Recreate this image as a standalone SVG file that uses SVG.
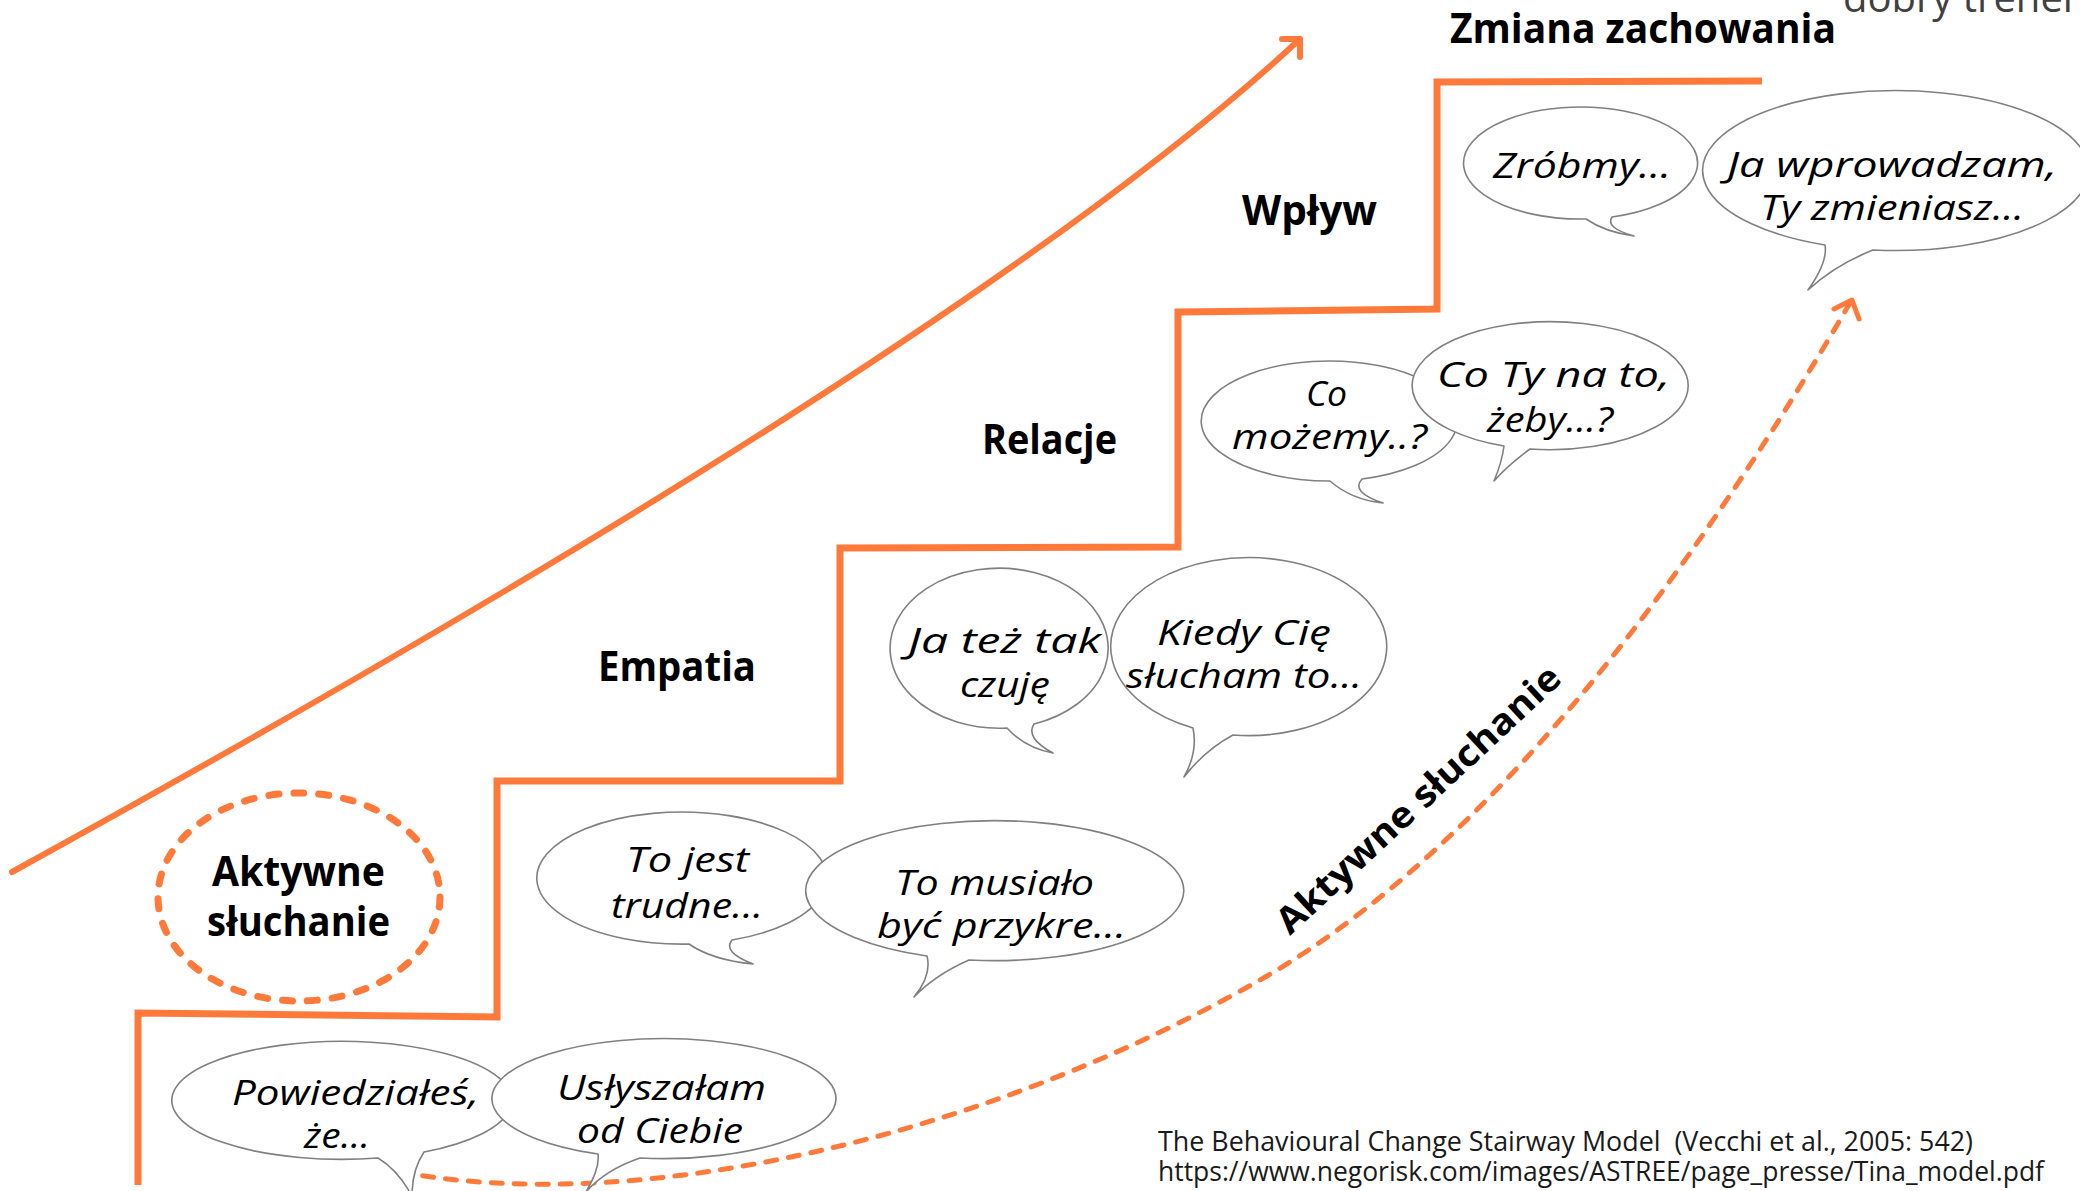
<svg xmlns="http://www.w3.org/2000/svg" width="2080" height="1191" viewBox="0 0 2080 1191">
<style>
.stair{fill:none;stroke:#FF7A3A;stroke-width:7;stroke-linejoin:miter}
.arrow{fill:none;stroke:#FF7A3A;stroke-width:6;stroke-linecap:round;stroke-linejoin:round}
.dash{fill:none;stroke:#FF7A3A;stroke-width:5;stroke-dasharray:11 12;stroke-linecap:round}
.ring{fill:none;stroke:#FF7A3A;stroke-width:7;stroke-dasharray:10 15;stroke-linecap:round}
.bubble{fill:#fff;stroke:#808080;stroke-width:1.6;stroke-linejoin:round}
.say{font-family:"Open Sans","Noto Sans",sans-serif;font-style:italic;font-weight:500;font-size:34px;fill:#000}
.lbl{font-family:"Open Sans","Noto Sans",sans-serif;font-weight:700;font-size:42px;fill:#000}
.ref{font-family:"Open Sans","Noto Sans",sans-serif;font-weight:400;font-size:27px;fill:#1a1a1a}
</style>
<rect width="2080" height="1191" fill="#fff"/>
<text x="1843" y="12" style="font-family:'Open Sans',sans-serif;font-size:40px;fill:#404040">dobry trener</text>

<g id="connectors">
  <polyline id="stairs" class="stair" points="138,1185 138,1013 497,1017 497,781 840,781 840,548 1178,547 1178,312 1437,309 1437,82 1762,81"/>
  <path id="growth-arrow" class="arrow" d="M12,872 Q972,344 1300,39"/>
  <path class="arrow" d="M1282,39 L1300,39 L1300,57"/>
  <path id="listening-arrow" class="dash" d="M400,1172 C650,1218 1000,1130 1267,976 C1500,840 1700,560 1850,303"/>
  <path class="arrow" style="stroke-width:5" d="M1834,309 L1852,300 L1859,319"/>
</g>

<g id="step-labels">
  <text class="lbl" x="1450" y="43" textLength="386" lengthAdjust="spacingAndGlyphs">Zmiana zachowania</text>
  <text class="lbl" x="1242" y="225" textLength="135" lengthAdjust="spacingAndGlyphs">Wpływ</text>
  <text class="lbl" x="982" y="454" textLength="135" lengthAdjust="spacingAndGlyphs">Relacje</text>
  <text class="lbl" x="598" y="681" textLength="158" lengthAdjust="spacingAndGlyphs">Empatia</text>
  <text class="lbl" transform="translate(1290,936) rotate(-43)" style="font-size:36px" x="0" y="0" textLength="374" lengthAdjust="spacingAndGlyphs">Aktywne słuchanie</text>
</g>

<g id="node-aktywne">
  <ellipse class="ring" cx="299" cy="897" rx="141" ry="104"/>
  <text class="lbl" x="212" y="886" textLength="173" lengthAdjust="spacingAndGlyphs">Aktywne</text>
  <text class="lbl" x="207" y="936" textLength="183" lengthAdjust="spacingAndGlyphs">słuchanie</text>
</g>

<g id="bubble-powiedziales">
  <path class="bubble" d="M378,1158 A170,59 0 1 1 424,1152 Q412,1170 412,1196 Q398,1170 378,1158 Z"/>
  <text class="say" x="232" y="1105" textLength="247" lengthAdjust="spacingAndGlyphs">Powiedziałeś,</text>
  <text class="say" x="304" y="1148" textLength="66" lengthAdjust="spacingAndGlyphs">że...</text>
</g>
<g id="bubble-uslyszalam">
  <path class="bubble" d="M598,1154 A172,60 0 1 1 640,1158 Q605,1170 586,1192 Q600,1168 598,1154 Z"/>
  <text class="say" x="557" y="1100" textLength="209" lengthAdjust="spacingAndGlyphs">Usłyszałam</text>
  <text class="say" x="577" y="1143" textLength="166" lengthAdjust="spacingAndGlyphs">od Ciebie</text>
</g>
<g id="bubble-to-jest">
  <path class="bubble" d="M689,944 A145,66 0 1 1 732,940 Q722,952 753,964 Q712,960 689,944 Z"/>
  <text class="say" x="626" y="872" textLength="123" lengthAdjust="spacingAndGlyphs">To jest</text>
  <text class="say" x="611" y="918" textLength="152" lengthAdjust="spacingAndGlyphs">trudne...</text>
</g>
<g id="bubble-to-musialo">
  <path class="bubble" d="M927,956 A189,70 0 1 1 969,960 Q935,975 914,997 Q932,975 927,956 Z"/>
  <text class="say" x="895" y="895" textLength="199" lengthAdjust="spacingAndGlyphs">To musiało</text>
  <text class="say" x="877" y="938" textLength="249" lengthAdjust="spacingAndGlyphs">być przykre...</text>
</g>
<g id="bubble-ja-tez">
  <path class="bubble" d="M1007,728 A109,80 0 1 1 1034,724 Q1025,738 1053,753 Q1025,748 1007,728 Z"/>
  <text class="say" x="908" y="653" textLength="193" lengthAdjust="spacingAndGlyphs">Ja też tak</text>
  <text class="say" x="960" y="697" textLength="90" lengthAdjust="spacingAndGlyphs">czuję</text>
</g>
<g id="bubble-kiedy">
  <path class="bubble" d="M1193,728 A138,89 0 1 1 1233,735 Q1205,750 1184,777 Q1198,752 1193,728 Z"/>
  <text class="say" x="1157" y="645" textLength="174" lengthAdjust="spacingAndGlyphs">Kiedy Cię</text>
  <text class="say" x="1126" y="688" textLength="236" lengthAdjust="spacingAndGlyphs">słucham to...</text>
</g>
<g id="bubble-co-mozemy">
  <path class="bubble" d="M1330,481 A128,60 0 1 1 1362,479 Q1350,492 1383,503 Q1352,500 1330,481 Z"/>
  <text class="say" x="1306" y="406" textLength="41" lengthAdjust="spacingAndGlyphs">Co</text>
  <text class="say" x="1232" y="449" textLength="195" lengthAdjust="spacingAndGlyphs">możemy..?</text>
</g>
<g id="bubble-co-ty">
  <path class="bubble" d="M1504,446 A138,64 0 1 1 1530,449 Q1508,465 1494,481 Q1502,462 1504,446 Z"/>
  <text class="say" x="1437" y="387" textLength="233" lengthAdjust="spacingAndGlyphs">Co Ty na to,</text>
  <text class="say" x="1487" y="432" textLength="126" lengthAdjust="spacingAndGlyphs">żeby...?</text>
</g>
<g id="bubble-zrobmy">
  <path class="bubble" d="M1586,219 A117,56 0 1 1 1612,217 Q1605,228 1634,236 Q1605,232 1586,219 Z"/>
  <text class="say" x="1493" y="178" textLength="178" lengthAdjust="spacingAndGlyphs">Zróbmy...</text>
</g>
<g id="bubble-ja-wprowadzam">
  <path class="bubble" d="M1825,245 A193,80 0 1 1 1873,250 Q1835,265 1808,290 Q1828,262 1825,245 Z"/>
  <text class="say" x="1727" y="177" textLength="330" lengthAdjust="spacingAndGlyphs">Ja wprowadzam,</text>
  <text class="say" x="1760" y="220" textLength="264" lengthAdjust="spacingAndGlyphs">Ty zmieniasz...</text>
</g>

<g id="reference">
  <text class="ref" xml:space="preserve" x="1158" y="1151" textLength="815" lengthAdjust="spacingAndGlyphs">The Behavioural Change Stairway Model  (Vecchi et al., 2005: 542)</text>
  <text class="ref" x="1158" y="1181" textLength="886" lengthAdjust="spacingAndGlyphs">https://www.negorisk.com/images/ASTREE/page_presse/Tina_model.pdf</text>
</g>
</svg>
